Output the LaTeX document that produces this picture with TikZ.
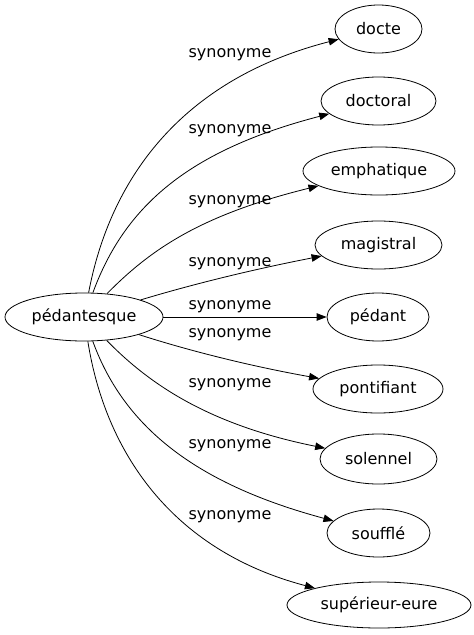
\documentclass[tikz,border=0pt]{standalone}
\usepackage{fontspec}
\setmainfont{DejaVu Sans}
\usetikzlibrary{shapes.geometric,arrows.meta}
\begin{document}
\begin{tikzpicture}[x=1pt,y=-1pt,
  word/.style={draw,ellipse,inner sep=0pt,line width=0.8pt,font=\fontsize{16}{19}\selectfont},
  lbl/.style={font=\fontsize{16}{19}\selectfont,inner sep=0pt},
  syn/.style={draw,line width=0.8pt,-{Triangle[length=10pt,width=7.5pt]}}]
\useasboundingbox (0,0) rectangle (474,635);
\node[word,minimum width=158pt,minimum height=48pt] (src) at (84,317) {pédantesque};
\node[word,minimum width=87pt,minimum height=48pt] (docte) at (378.5,29) {docte};
\node[word,minimum width=115pt,minimum height=48pt] (doctoral) at (378.5,101) {doctoral};
\node[word,minimum width=152pt,minimum height=48pt] (emph) at (379,171) {emphatique};
\node[word,minimum width=127pt,minimum height=48pt] (magi) at (378.5,245) {magistral};
\node[word,minimum width=102pt,minimum height=48pt] (pedant) at (378,317) {pédant};
\node[word,minimum width=130pt,minimum height=48pt] (ponti) at (378,389) {pontifiant};
\node[word,minimum width=117pt,minimum height=50pt] (sol) at (378.5,459) {solennel};
\node[word,minimum width=103pt,minimum height=48pt] (souf) at (378.5,533) {soufflé};
\node[word,minimum width=184pt,minimum height=46pt] (sup) at (379,605) {supérieur-eure};
\node[lbl] (l1) at (230,55) {synonyme};
\node[lbl] (l2) at (230,131) {synonyme};
\node[lbl] (l3) at (230,202) {synonyme};
\node[lbl] (l4) at (230,264) {synonyme};
\node[lbl] (l5) at (230,307) {synonyme};
\node[lbl] (l6) at (230,335) {synonyme};
\node[lbl] (l7) at (230,385) {synonyme};
\node[lbl] (l8) at (230,446) {synonyme};
\node[lbl] (l9) at (230,517) {synonyme};
\draw[syn] (src) .. controls (110,180) and (180,80) .. (docte);
\draw[syn] (src) .. controls (125,205) and (190,150) .. (doctoral);
\draw[syn] (src) .. controls (150,250) and (200,215) .. (emph);
\draw[syn] (src) .. controls (190,285) and (250,270) .. (magi);
\draw[syn] (src) -- (pedant);
\draw[syn] (src) .. controls (190,351) and (250,366) .. (ponti);
\draw[syn] (src) .. controls (150,385) and (210,425) .. (sol);
\draw[syn] (src) .. controls (125,430) and (200,485) .. (souf);
\draw[syn] (src) .. controls (105,450) and (170,550) .. (sup);
\end{tikzpicture}
\end{document}
